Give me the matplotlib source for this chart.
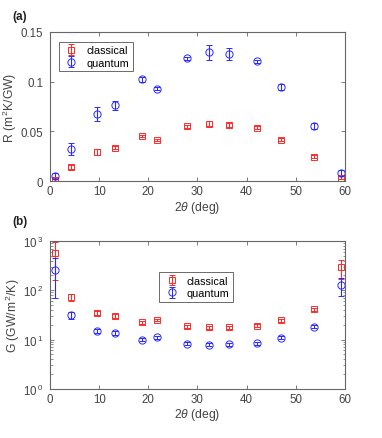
import matplotlib
matplotlib.use("Agg")
import matplotlib.pyplot as plt
import numpy as np
from matplotlib.ticker import LogLocator, NullFormatter

plt.rcParams['font.family'] = ['Liberation Sans', 'DejaVu Sans']
plt.rcParams['mathtext.fontset'] = 'custom'
plt.rcParams['mathtext.rm'] = 'Liberation Sans'
plt.rcParams['mathtext.it'] = 'Liberation Sans:italic'

theta2 = [1.0, 4.3, 9.5, 13.2, 18.8, 21.8, 27.9, 32.3, 36.5, 42.1, 46.9, 53.7, 59.1]

R_classical = [0.0013, 0.0147, 0.0294, 0.0334, 0.0454, 0.0414, 0.0551, 0.0575, 0.0568, 0.0538, 0.0418, 0.0244, 0.0033]
R_classical_err = [0.0015, 0.002, 0.003, 0.0015, 0.0012, 0.0012, 0.0015, 0.0025, 0.002, 0.0012, 0.0015, 0.0015, 0.0015]
R_quantum = [0.0053, 0.0324, 0.0675, 0.0762, 0.1022, 0.0929, 0.1236, 0.1296, 0.1276, 0.1203, 0.0942, 0.0555, 0.0084]
R_quantum_err = [0.003, 0.0057, 0.0073, 0.0043, 0.003, 0.0015, 0.0015, 0.0075, 0.006, 0.0015, 0.003, 0.003, 0.003]

G_classical = [563, 71.4, 34.4, 29.9, 22.3, 24.8, 18.5, 17.7, 17.7, 19.1, 24.4, 41.5, 289]
G_classical_lo = [160, 60, 31, 27.5, 20.8, 23.2, 17.2, 16.6, 16.5, 17.6, 22.9, 38.5, 170]
G_classical_hi = [970, 85, 38, 32.5, 24.0, 26.5, 19.8, 18.9, 19.0, 20.7, 26.0, 44.5, 406]
G_quantum = [255, 31.8, 15.1, 13.6, 9.93, 11.1, 8.25, 7.87, 8.0, 8.38, 10.9, 18.2, 129]
G_quantum_lo = [71, 26.3, 13.6, 12.6, 9.3, 10.4, 7.7, 7.3, 7.4, 7.9, 10.2, 17.0, 75]
G_quantum_hi = [440, 36.7, 16.7, 14.6, 10.6, 11.8, 8.8, 8.45, 8.6, 8.9, 11.6, 19.5, 176]

red = '#ff2a2a'
blue = '#2a2aff'
tick_color = '#444444'

fig = plt.figure(figsize=(3.82, 4.39), dpi=100)
ax1 = fig.add_axes([0.131, 0.585, 0.772, 0.340])
ax2 = fig.add_axes([0.131, 0.112, 0.772, 0.337])

for ax in (ax1, ax2):
    for s in ax.spines.values():
        s.set_color('#666666')
        s.set_linewidth(0.8)
    ax.tick_params(direction='in', top=True, right=True, labelsize=8.3,
                   colors='#666666', labelcolor=tick_color, length=3, width=0.6, pad=3)
    ax.tick_params(axis='y', pad=5)
    ax.tick_params(which='minor', direction='in', right=True, left=True, length=1.8, width=0.5, colors='#666666')

# (a)
ax1.errorbar(theta2, R_classical, yerr=R_classical_err, fmt='s', mfc='none', mec=red,
             ecolor=red, ms=4, mew=0.7, capsize=2.2, elinewidth=0.8, capthick=0.8, label='classical')
ax1.errorbar(theta2, R_quantum, yerr=R_quantum_err, fmt='o', mfc='none', mec=blue,
             ecolor=blue, ms=5.2, mew=0.7, capsize=2.2, elinewidth=0.8, capthick=0.8, label='quantum')
ax1.set_xlim(0, 60)
ax1.set_ylim(0, 0.15)
ax1.set_xticks([0, 10, 20, 30, 40, 50, 60])
ax1.set_yticks([0, 0.05, 0.1, 0.15])
ax1.set_yticklabels(['0', '0.05', '0.1', '0.15'])
ax1.set_xlabel(r'2$\mathit{\theta}$ (deg)', fontsize=8.7, color=tick_color, labelpad=1)
ax1.set_ylabel(r'R (m$^{\,2}$K/GW)', fontsize=8.7, color=tick_color, labelpad=1)
leg1 = ax1.legend(loc='upper left', bbox_to_anchor=(0.03, 0.935), fontsize=7.8, frameon=True,
                  fancybox=False, edgecolor='#444444', borderpad=0.35, handletextpad=0.6,
                  labelspacing=0.2, handlelength=1.6, borderaxespad=0)
leg1.get_frame().set_linewidth(0.7)
fig.text(0.032, 0.955, '(a)', fontsize=8.5, fontweight='bold', color='#222222')

# (b)
def asym(vals, lo, hi):
    v = np.array(vals); return [v - np.array(lo), np.array(hi) - v]

ax2.errorbar(theta2, G_classical, yerr=asym(G_classical, G_classical_lo, G_classical_hi), fmt='s',
             mfc='none', mec=red, ecolor=red, ms=4, mew=0.7, capsize=2.2, elinewidth=0.8,
             capthick=0.8, label='classical')
ax2.errorbar(theta2, G_quantum, yerr=asym(G_quantum, G_quantum_lo, G_quantum_hi), fmt='o',
             mfc='none', mec=blue, ecolor=blue, ms=5.2, mew=0.7, capsize=2.2, elinewidth=0.8,
             capthick=0.8, label='quantum')
ax2.set_yscale('log')
ax2.set_xlim(0, 60)
ax2.set_ylim(1, 1000)
ax2.set_xticks([0, 10, 20, 30, 40, 50, 60])
ax2.set_yticks([1, 10, 100, 1000])
ax2.set_yticklabels([r'10$^{\,0}$', r'10$^{\,1}$', r'10$^{\,2}$', r'10$^{\,3}$'])
ax2.yaxis.set_minor_locator(LogLocator(base=10, subs=np.arange(2, 10)))
ax2.yaxis.set_minor_formatter(NullFormatter())
ax2.set_xlabel(r'2$\mathit{\theta}$ (deg)', fontsize=8.7, color=tick_color, labelpad=1)
ax2.set_ylabel(r'G (GW/m$^{\,2}$/K)', fontsize=8.7, color=tick_color, labelpad=1)
leg2 = ax2.legend(loc='upper left', bbox_to_anchor=(0.37, 0.79), fontsize=7.8, frameon=True,
                  fancybox=False, edgecolor='#444444', borderpad=0.35, handletextpad=0.6,
                  labelspacing=0.2, handlelength=1.6, borderaxespad=0)
leg2.get_frame().set_linewidth(0.7)
fig.text(0.032, 0.487, '(b)', fontsize=8.5, fontweight='bold', color='#222222')

fig.savefig('out.png', dpi=100)
